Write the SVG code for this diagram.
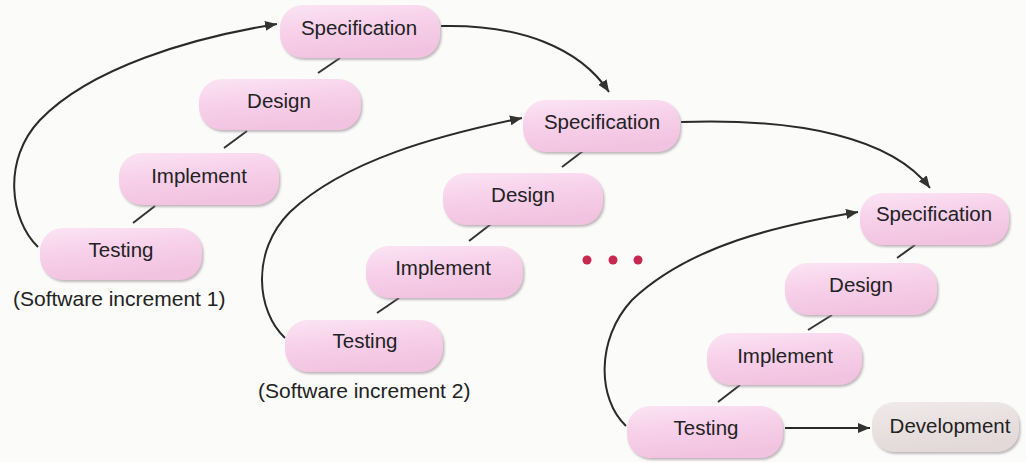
<svg xmlns="http://www.w3.org/2000/svg" width="1026" height="462" viewBox="0 0 1026 462">
  <defs>
    <linearGradient id="pink" x1="0" y1="0" x2="0.3" y2="1">
      <stop offset="0" stop-color="#fbe4f4"/>
      <stop offset="0.5" stop-color="#f7d0ea"/>
      <stop offset="1" stop-color="#f2c3e0"/>
    </linearGradient>
    <linearGradient id="grey" x1="0" y1="0" x2="0.3" y2="1">
      <stop offset="0" stop-color="#f0eaea"/>
      <stop offset="1" stop-color="#e2d9d8"/>
    </linearGradient>
    <filter id="shade" x="-10%" y="-20%" width="125%" height="150%">
      <feDropShadow dx="1.5" dy="2" stdDeviation="1.2" flood-color="#8f8089" flood-opacity="0.55"/>
    </filter>
    <marker id="head" viewBox="0 0 12 10" refX="12" refY="5" markerWidth="12" markerHeight="10" markerUnits="userSpaceOnUse" orient="auto">
      <path d="M0,0 L12,5 L0,10 z" fill="#333"/>
    </marker>
    <style>
      .pill { fill: url(#pink); filter: url(#shade); }
      .pill.dev { fill: url(#grey); }
      .lbl { font-family: "Liberation Sans", Arial, sans-serif; font-size: 20.5px; fill: #222; text-anchor: middle; }
      .cap { font-family: "Liberation Sans", Arial, sans-serif; font-size: 21px; fill: #222; }
      .link { stroke: #333; stroke-width: 2; fill: none; }
      .flow { stroke: #2a2a2a; stroke-width: 2; fill: none; marker-end: url(#head); }
      .dot { fill: #c6284f; }
    </style>
  </defs>

  <rect width="1026" height="462" fill="#fbfbf9"/>

  <!-- connectors -->
  <g id="connectors">
    <!-- phase links inside each increment -->
    <line class="link" x1="340" y1="58" x2="318" y2="73"/>
    <line class="link" x1="247" y1="131" x2="224" y2="148"/>
    <line class="link" x1="155" y1="206" x2="133" y2="223"/>

    <line class="link" x1="583" y1="151" x2="562" y2="167"/>
    <line class="link" x1="491" y1="224" x2="469" y2="241"/>
    <line class="link" x1="399" y1="298" x2="377" y2="313"/>

    <line class="link" x1="915" y1="245" x2="897" y2="258"/>
    <line class="link" x1="832" y1="315" x2="808" y2="330"/>
    <line class="link" x1="740" y1="385" x2="718" y2="402"/>

    <!-- feedback loops from testing back to specification -->
    <path class="flow" d="M38,247 C10,220 2,160 40,120 C90,68 190,38 277,24"/>
    <path class="flow" d="M285,338 C257,312 250,252 290,212 C345,160 440,135 522,118"/>
    <path class="flow" d="M626,426 C598,400 595,340 632,300 C690,245 780,225 858,212"/>

    <!-- hand-off to the next increment -->
    <path class="flow" d="M441,26 C520,24 580,48 609,92"/>
    <path class="flow" d="M681,122 C800,118 892,138 930,188"/>

    <!-- release -->
    <line class="flow" x1="785" y1="428" x2="870" y2="428"/>
  </g>

  <!-- increment 1 -->
  <g id="spec1"><rect class="pill" x="280" y="5" width="160" height="53" rx="23"/><text class="lbl" x="359" y="35">Specification</text></g>
  <g id="design1"><rect class="pill" x="199" y="79" width="162" height="51" rx="23"/><text class="lbl" x="279" y="108">Design</text></g>
  <g id="implement1"><rect class="pill" x="119" y="153" width="160" height="52" rx="23"/><text class="lbl" x="199" y="183">Implement</text></g>
  <g id="testing1"><rect class="pill" x="40" y="228" width="162" height="52" rx="23"/><text class="lbl" x="121" y="257">Testing</text></g>
  <g id="label1"><text class="cap" x="13" y="306">(Software increment 1)</text></g>

  <!-- increment 2 -->
  <g id="spec2"><rect class="pill" x="523" y="100" width="157" height="52" rx="23"/><text class="lbl" x="602" y="129">Specification</text></g>
  <g id="design2"><rect class="pill" x="443" y="173" width="160" height="52" rx="23"/><text class="lbl" x="523" y="202">Design</text></g>
  <g id="implement2"><rect class="pill" x="366" y="246" width="157" height="52" rx="23"/><text class="lbl" x="443" y="275">Implement</text></g>
  <g id="testing2"><rect class="pill" x="285" y="320" width="158" height="52" rx="23"/><text class="lbl" x="365" y="348">Testing</text></g>
  <g id="label2"><text class="cap" x="258" y="398">(Software increment 2)</text></g>

  <!-- ellipsis between increments -->
  <g id="ellipsis">
    <circle class="dot" cx="587" cy="260" r="4.5"/>
    <circle class="dot" cx="613" cy="260" r="4.5"/>
    <circle class="dot" cx="638" cy="260" r="4.5"/>
  </g>

  <!-- increment n -->
  <g id="spec3"><rect class="pill" x="860" y="193" width="149" height="52" rx="23"/><text class="lbl" x="934" y="221">Specification</text></g>
  <g id="design3"><rect class="pill" x="785" y="263" width="152" height="52" rx="23"/><text class="lbl" x="861" y="292">Design</text></g>
  <g id="implement3"><rect class="pill" x="707" y="333" width="155" height="52" rx="23"/><text class="lbl" x="785" y="363">Implement</text></g>
  <g id="testing3"><rect class="pill" x="627" y="406" width="156" height="52" rx="23"/><text class="lbl" x="706" y="435">Testing</text></g>
  <g id="development"><rect class="pill dev" x="872" y="402" width="147" height="50" rx="22"/><text class="lbl" x="950" y="433">Development</text></g>
</svg>
